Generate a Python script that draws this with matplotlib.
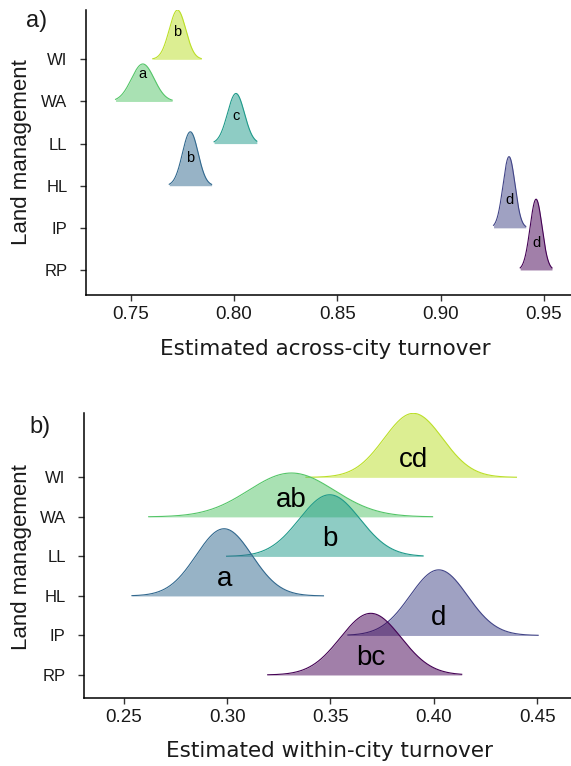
import numpy as np
import matplotlib
matplotlib.use("Agg")
import matplotlib.pyplot as plt

# ---------------- data ----------------
groups = ["RP", "IP", "HL", "LL", "WA", "WI"]
colors = ["#440154", "#414487", "#31688E", "#1F9A8A", "#54C568", "#BBDF27"]

# Panel a: estimated across-city turnover
a_mean = [0.9462, 0.9331, 0.7788, 0.8009, 0.7558, 0.7726]
a_sd = [0.0029, 0.0029, 0.0038, 0.0041, 0.0055, 0.0040]
a_lo = [0.9385, 0.9256, 0.7686, 0.7903, 0.7426, 0.7606]
a_hi = [0.9539, 0.9412, 0.7891, 0.8110, 0.7700, 0.7841]
a_peak = [1.68, 1.69, 1.28, 1.19, 0.89, 1.17]
a_letters = ["d", "d", "b", "c", "a", "b"]
a_ticks = [0.75, 0.80, 0.85, 0.90, 0.95]

# Panel b: estimated within-city turnover
b_mean = [0.3695, 0.4024, 0.2985, 0.3496, 0.3311, 0.3901]
b_sd = [0.0147, 0.0139, 0.0135, 0.0147, 0.0207, 0.0142]
b_lo = [0.3196, 0.3584, 0.2539, 0.2997, 0.2620, 0.3381]
b_hi = [0.4135, 0.4505, 0.3466, 0.3948, 0.3994, 0.4400]
b_peak = [1.56, 1.66, 1.70, 1.56, 1.11, 1.62]
b_letters = ["bc", "d", "a", "b", "ab", "cd"]
b_ticks = [0.25, 0.30, 0.35, 0.40, 0.45]

plt.rcParams['font.family'] = ['Liberation Sans', 'DejaVu Sans']

W, H = 571, 766
fig = plt.figure(figsize=(W / 100, H / 100), dpi=100)


def px_axes(left, top, right, bottom):
    return fig.add_axes([left / W, 1 - bottom / H, (right - left) / W, (bottom - top) / H])


def ridges(ax, means, sds, los, his, peaks, letters, lab_off, lab_size):
    n = len(groups)
    for i in reversed(range(n)):
        base = i + 1
        x = np.linspace(los[i], his[i], 400)
        d = np.exp(-0.5 * ((x - means[i]) / sds[i]) ** 2)
        y = base + peaks[i] * d / d.max()
        ax.fill_between(x, base, y, color=colors[i], alpha=0.5, lw=0, zorder=2 + (n - i))
        ax.plot(x, y, color=colors[i], lw=0.8, zorder=2 + (n - i))
    for i in range(n):
        ax.text(means[i], i + 1 + lab_off, letters[i], ha='center', va='center',
                fontsize=lab_size, color='black', zorder=20)


def style(ax, ticks, xlim, ylim):
    ax.set_xlim(*xlim)
    ax.set_ylim(*ylim)
    ax.set_xticks(ticks)
    ax.set_xticklabels([f"{t:.2f}" for t in ticks])
    ax.set_yticks(range(1, len(groups) + 1))
    ax.set_yticklabels(groups)
    for s in ['top', 'right']:
        ax.spines[s].set_visible(False)
    for s in ['left', 'bottom']:
        ax.spines[s].set_linewidth(1.1)
        ax.spines[s].set_color('black')
    ax.tick_params(axis='x', length=4, width=1.0, color='#333333', labelsize=13.5,
                   pad=4, labelcolor='#1a1a1a')
    ax.tick_params(axis='y', length=4, width=1.0, color='#333333', labelsize=12,
                   pad=9, labelcolor='#1a1a1a')


# Panel a
axa = px_axes(85.6, 10, 571, 295)
ridges(axa, a_mean, a_sd, a_lo, a_hi, a_peak, a_letters, 0.65, 10.5)
style(axa, a_ticks, (0.7281, 0.9631), (0.406, 7.171))

# Panel b
axb = px_axes(83.8, 412.7, 571, 698.3)
ridges(axb, b_mean, b_sd, b_lo, b_hi, b_peak, b_letters, 0.43, 20)
style(axb, b_ticks, (0.2306, 0.4664), (0.41, 7.636))

# Titles and panel letters
fig.text(325 / W, 1 - 349 / H, "Estimated across-city turnover", ha='center', va='center',
         fontsize=15.5, family='DejaVu Sans', color='#1a1a1a')
fig.text(329 / W, 1 - 751 / H, "Estimated within-city turnover", ha='center', va='center',
         fontsize=15.5, family='DejaVu Sans', color='#1a1a1a')
fig.text(22 / W, 1 - 152 / H, "Land management", rotation=90, ha='center', va='center',
         fontsize=16, color='#1a1a1a')
fig.text(22 / W, 1 - 557 / H, "Land management", rotation=90, ha='center', va='center',
         fontsize=16, color='#1a1a1a')
fig.text(36.4 / W, 1 - 21 / H, "a)", ha='center', va='center', fontsize=17, color='#1a1a1a')
fig.text(40 / W, 1 - 427 / H, "b)", ha='center', va='center', fontsize=17, color='#1a1a1a')

fig.savefig("out.png", dpi=100, facecolor='white')
